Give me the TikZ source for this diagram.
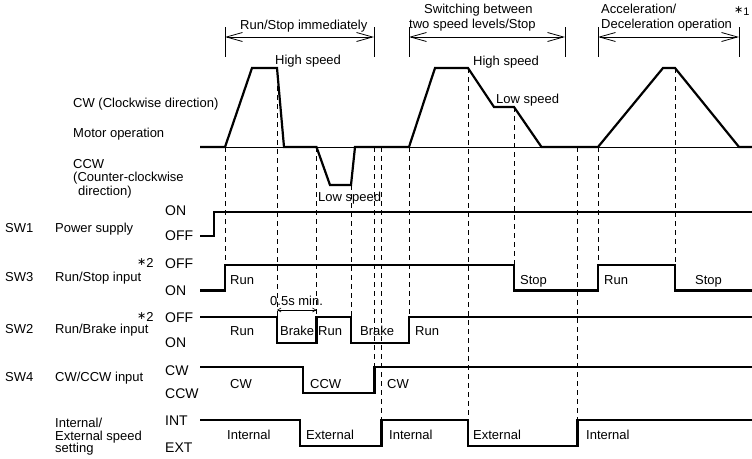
\documentclass[tikz,border=0pt]{standalone}
\usepackage{fontspec}
\setmainfont{Liberation Sans}
\newfontfamily\dv{DejaVu Sans}
\usetikzlibrary{arrows.meta}
\begin{document}
\begin{tikzpicture}[x=1pt,y=-1pt,
  sig/.style={line width=2.2pt, line join=miter, line cap=butt},
  ax/.style={line width=0.8pt},
  dsh/.style={line width=0.7pt, dash pattern=on 5pt off 4pt},
  brk/.style={line width=0.8pt},
  dimar/.style={line width=0.8pt, {Straight Barb[length=16pt,width=9pt]}-{Straight Barb[length=16pt,width=9pt]}},
  smallar/.style={line width=0.6pt, {Straight Barb[length=3.5pt,width=4pt]}-{Straight Barb[length=3.5pt,width=4pt]}},
  lbl/.style={anchor=base west, inner sep=0pt, font=\fontsize{13}{15}\selectfont},
  lvl/.style={anchor=base west, inner sep=0pt, font=\fontsize{14}{16}\selectfont},
  ast/.style={anchor=base west, inner sep=0pt, font=\fontsize{13}{15}\selectfont}]
\useasboundingbox (0,0) rectangle (752,458);
\newcommand{\astk}{\raisebox{1.5pt}{\dv\fontsize{11}{11}\selectfont ∗}}

% ---------- brackets at top ----------
\foreach \n/\x in {a/225,b/374,c/409,d/565,e/598,f/739}{
  \coordinate (\n t) at (\x,27);
  \coordinate (\n b) at (\x,57);
  \coordinate (\n m) at (\x,37);
  \draw[brk] (\n t) -- (\n b);
}
\draw[dimar] (am) -- (bm);
\draw[dimar] (cm) -- (dm);
\draw[dimar] (em) -- (fm);

\node[lbl] (t1) at (240,29) {Run/Stop immediately};
\node[lbl] (t2a) at (424,13) {Switching between};
\node[lbl] (t2b) at (409,28) {two speed levels/Stop};
\node[lbl] (t3a) at (601,13) {Acceleration/};
\node[lbl] (t3b) at (601,28) {Deceleration operation};
\node[anchor=base west, inner sep=0pt, font=\fontsize{11}{12}\selectfont] (n1) at (734,15) {\astk1};

% ---------- motor operation ----------
\draw[ax] (200,147) -- (752,147);
\draw[sig] (200,147) -- (225,147) -- (252,68) -- (277,68) -- (284,147) -- (316.5,147)
  -- (330,185) -- (351,185) -- (355,147) -- (409,147) -- (435,68) -- (468,68)
  -- (494,107) -- (514,107) -- (541.5,147) -- (598,147) -- (663,68) -- (675,68)
  -- (739,147) -- (752,147);

\node[lbl] (hs1) at (275,64) {High speed};
\node[lbl] (hs2) at (473,65) {High speed};
\node[lbl] (ls2) at (496,103) {Low speed};
\node[lbl] (ls1) at (318,201.5) {Low speed};

\node[lbl] (cw) at (73,107) {CW (Clockwise direction)};
\node[lbl] (mo) at (73,137.5) {Motor operation};
\node[lbl] (ccw1) at (73,168) {CCW};
\node[lbl] (ccw2) at (73,181.5) {(Counter-clockwise};
\node[lbl] (ccw3) at (78,195) {direction)};

% ---------- dashed guides ----------
\draw[dsh] (225,147) -- (225,265);
\draw[dsh] (277,68) -- (277,317);
\draw[dsh] (316.5,147) -- (316.5,317);
\draw[dsh] (351,185) -- (351,317);
\draw[dsh] (374.5,147) -- (374.5,367);
\draw[dsh] (381.5,147) -- (381.5,420);
\draw[dsh] (409,147) -- (409,317);
\draw[dsh] (468,68) -- (468,420);
\draw[dsh] (514,107) -- (514,265);
\draw[dsh] (577.5,147) -- (577.5,420);
\draw[dsh] (598,147) -- (598,265);
\draw[dsh] (675,68) -- (675,265);

% ---------- SW1 ----------
\node[lbl] (sw1) at (5,232) {SW1};
\node[lbl] (ps) at (55,232) {Power supply};
\node[lvl] (sw1on) at (165,215) {ON};
\node[lvl] (sw1off) at (165,240.5) {OFF};
\draw[sig] (200,236) -- (214,236) -- (214,212) -- (752,212);

% ---------- SW3 ----------
\node[lbl] (sw3) at (5,281.5) {SW3};
\node[lbl] (rs) at (55,281.5) {Run/Stop input};
\node[ast] (a2a) at (137,267) {\astk2};
\node[lvl] (sw3off) at (165,268) {OFF};
\node[lvl] (sw3on) at (165,295.5) {ON};
\draw[sig] (200,290.5) -- (225,290.5) -- (225,265) -- (514,265) -- (514,290.5) -- (598,290.5)
  -- (598,265) -- (675,265) -- (675,290.5) -- (752,290.5);
\node[lbl] (r1) at (230,284) {Run};
\node[lbl] (s1) at (520,284) {Stop};
\node[lbl] (r2) at (604,284) {Run};
\node[lbl] (s2) at (695,284) {Stop};

% ---------- SW2 ----------
\node[lbl] (sw2) at (5,333) {SW2};
\node[lbl] (rb) at (55,333) {Run/Brake input};
\node[ast] (a2b) at (137,321) {\astk2};
\node[lvl] (sw2off) at (165,322) {OFF};
\node[lvl] (sw2on) at (165,347) {ON};
\draw[sig] (200,317) -- (277,317) -- (277,343) -- (316.5,343) -- (316.5,317) -- (351,317)
  -- (351,343) -- (409,343) -- (409,317) -- (752,317);
\node[lbl] (br1) at (230,335) {Run};
\node[lbl] (br2) at (280,335) {Brake};
\node[lbl] (br3) at (318,335) {Run};
\node[lbl] (br4) at (360,335) {Brake};
\node[lbl] (br5) at (415,335) {Run};
\coordinate (hl) at (277,310);
\coordinate (hr) at (316.5,310);
\draw[smallar] (hl) -- (hr);
\node[lbl] (hmin) at (270,305) {0.5s min.};

% ---------- SW4 ----------
\node[lbl] (sw4) at (5,381.5) {SW4};
\node[lbl] (cc) at (55,381.5) {CW/CCW input};
\node[lvl] (sw4cw) at (165,375) {CW};
\node[lvl] (sw4ccw) at (165,398) {CCW};
\draw[sig] (200,367) -- (303,367) -- (303,393) -- (374.5,393) -- (374.5,367) -- (752,367);
\node[lbl] (c1) at (230,388) {CW};
\node[lbl] (c2) at (310,388) {CCW};
\node[lbl] (c3) at (387,388) {CW};

% ---------- Internal / External ----------
\node[lbl] (ie1) at (55,427) {Internal/};
\node[lbl] (ie2) at (55,440.5) {External speed};
\node[lbl] (ie3) at (55,452) {setting};
\node[lvl] (int) at (165,425.5) {INT};
\node[lvl] (ext) at (165,452) {EXT};
\draw[sig] (200,420) -- (300,420) -- (300,446) -- (381.5,446) -- (381.5,420) -- (468,420)
  -- (468,446) -- (577.5,446) -- (577.5,420) -- (752,420);
\node[lbl] (i1) at (227,439) {Internal};
\node[lbl] (e1) at (306,439) {External};
\node[lbl] (i2) at (389,439) {Internal};
\node[lbl] (e2) at (473,439) {External};
\node[lbl] (i3) at (586,439) {Internal};
\end{tikzpicture}
\end{document}
